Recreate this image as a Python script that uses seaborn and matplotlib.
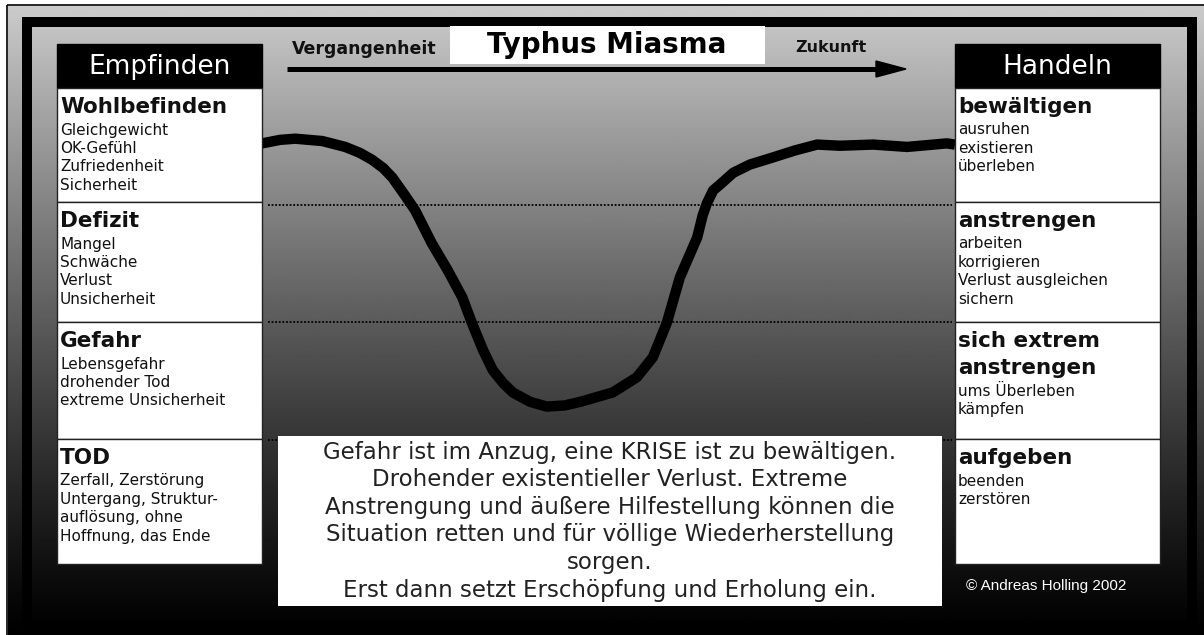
import numpy as np
import pandas as pd
import matplotlib
matplotlib.use("Agg")
import matplotlib.pyplot as plt
from matplotlib.patches import Rectangle, Polygon
import seaborn as sns

# Verlauf: Zeit (0 = Vergangenheit, 100 = Zukunft), Befinden-Stufe (0 = TOD ... 4 = Wohlbefinden)
zeit = [0, 2.6, 4.8, 8.7, 12.0, 14.1, 15.9, 17.5, 18.8, 20.6, 22.1, 24.5, 26.8, 28.9,
        30.3, 31.9, 33.3, 34.8, 36.2, 38.7, 41.1, 43.7, 45.9, 50.6, 54.1, 56.4, 58.4,
        60.3, 62.8, 63.6, 64.2, 65.1, 66.1, 68.0, 70.4, 73.7, 76.9, 80.1, 83.4, 88.2,
        93.1, 98.8, 100]
befinden = [3.52, 3.55, 3.56, 3.54, 3.49, 3.44, 3.38, 3.31, 3.23, 3.08, 2.95, 2.67, 2.44, 2.21,
            1.99, 1.76, 1.59, 1.48, 1.40, 1.32, 1.28, 1.29, 1.32, 1.40, 1.53, 1.70, 1.99,
            2.38, 2.72, 2.91, 3.01, 3.12, 3.17, 3.27, 3.34, 3.40, 3.46, 3.51, 3.50, 3.51,
            3.49, 3.52, 3.51]
stufen_grenzen = [3, 2, 1]

titel = "Typhus Miasma"
empfinden_titel = [["Wohlbefinden"], ["Defizit"], ["Gefahr"], ["TOD"]]
empfinden_text = [["Gleichgewicht", "OK-Gefühl", "Zufriedenheit", "Sicherheit"],
                  ["Mangel", "Schwäche", "Verlust", "Unsicherheit"],
                  ["Lebensgefahr", "drohender Tod", "extreme Unsicherheit"],
                  ["Zerfall, Zerstörung", "Untergang, Struktur-", "auflösung, ohne", "Hoffnung, das Ende"]]
handeln_titel = [["bewältigen"], ["anstrengen"], ["sich extrem", "anstrengen"], ["aufgeben"]]
handeln_text = [["ausruhen", "existieren", "überleben"],
                ["arbeiten", "korrigieren", "Verlust ausgleichen", "sichern"],
                ["ums Überleben", "kämpfen"],
                ["beenden", "zerstören"]]
beschreibung = ["Gefahr ist im Anzug, eine KRISE ist zu bewältigen.",
                "Drohender existentieller Verlust. Extreme",
                "Anstrengung und äußere Hilfestellung können die",
                "Situation retten und für völlige Wiederherstellung",
                "sorgen.",
                "Erst dann setzt Erschöpfung und Erholung ein."]

sns.set_style("white")
plt.rcParams['font.family'] = ['DejaVu Sans']

W, H = 1204, 635
fig = plt.figure(figsize=(W / 100, H / 100), dpi=100)
fig.patch.set_facecolor("white")

# Hintergrund mit Verlauf
bg = fig.add_axes([0, 0, 1, 1], zorder=0)
bg.set_xlim(0, W)
bg.set_ylim(H, 0)
bg.axis("off")
grad = np.linspace(0.82, 0.0, 256).reshape(-1, 1) ** 1.15
bg.imshow(grad, cmap="gray", vmin=0, vmax=1, aspect="auto", extent=(8, W, H, 6), origin="upper")
bg.set_xlim(0, W)
bg.set_ylim(H, 0)
bg.add_patch(Rectangle((7, 5), W, H, fill=False, edgecolor="black", lw=1.2))
bg.add_patch(Rectangle((27, 22), 1165, 603, fill=False, edgecolor="black", lw=7.2))

# Kurve
ax = fig.add_axes([262 / W, (H - 557) / H, 693 / W, 470 / H], zorder=1)
ax.patch.set_alpha(0)
df = pd.DataFrame({"zeit": zeit, "befinden": befinden})
ax.hlines(stufen_grenzen, 0.9, 99.6, colors="black", lw=1.3, linestyles=(0, (1, 1)))
sns.lineplot(data=df, x="zeit", y="befinden", color="black", lw=7.5, sort=False, ax=ax,
             solid_joinstyle="round", solid_capstyle="butt")
ax.set_xlim(0, 100)
ax.set_ylim(0, 4)
ax.axis("off")

# Beschriftung / Kästen
lay = fig.add_axes([0, 0, 1, 1], zorder=2)
lay.patch.set_alpha(0)
lay.set_xlim(0, W)
lay.set_ylim(H, 0)
lay.axis("off")

lay.add_patch(Rectangle((450, 26), 315, 38, facecolor="white", edgecolor="none"))
lay.text(607, 45, titel, ha="center", va="center", fontsize=20, fontweight="bold", color="black")
lay.plot([287, 882], [69, 69], color="black", lw=3.6, solid_capstyle="butt")
lay.add_patch(Polygon([(876, 61), (906, 69), (876, 77)], closed=True, color="black"))
lay.text(292, 49, "Vergangenheit", ha="left", va="center", fontsize=12.5, fontweight="bold", color="#111")
lay.text(795, 48, "Zukunft", ha="left", va="center", fontsize=11.5, fontweight="bold", color="#111")

box_top = [88, 202, 322, 439]
box_bot = [202, 322, 439, 564]


def spalte(x0, kopf, ueberschriften, texte):
    lay.add_patch(Rectangle((x0, 44), 205, 44, facecolor="black", edgecolor="black"))
    lay.text(x0 + 102.5, 67, kopf, ha="center", va="center", fontsize=19, color="white")
    for top, bot, ue, tx in zip(box_top, box_bot, ueberschriften, texte):
        lay.add_patch(Rectangle((x0, top), 205, bot - top, facecolor="white",
                                edgecolor="#222", lw=1))
        y = top + 19
        for i, line in enumerate(ue):
            lay.text(x0 + 3, y + i * 27, line, ha="left", va="center", fontsize=15.5,
                     fontweight="bold", color="#111")
        y = y + (len(ue) - 1) * 27 + 23
        for i, line in enumerate(tx):
            lay.text(x0 + 3, y + i * 18.4, line, ha="left", va="center", fontsize=11, color="#111")


spalte(57, "Empfinden", empfinden_titel, empfinden_text)
spalte(955, "Handeln", handeln_titel, handeln_text)

lay.add_patch(Rectangle((278, 436), 664, 170, facecolor="white", edgecolor="none"))
for i, line in enumerate(beschreibung):
    lay.text(610, 452 + i * 27.6, line, ha="center", va="center", fontsize=16.5, color="#222")

lay.text(966, 586, "© Andreas Holling 2002", ha="left", va="center", fontsize=11,
         color="white", family=["Liberation Sans", "DejaVu Sans"])

fig.savefig("out.png", dpi=100)
